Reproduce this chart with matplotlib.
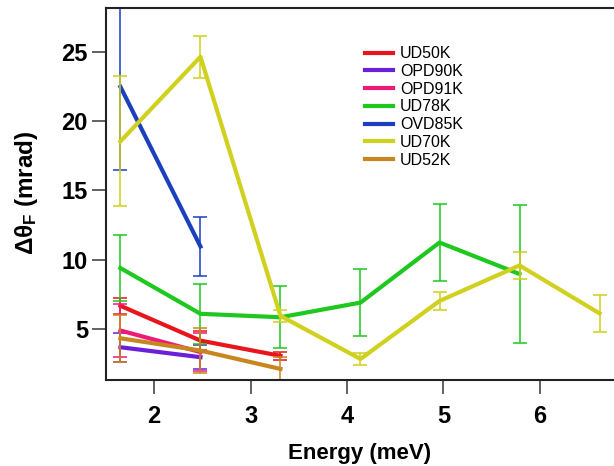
import matplotlib
matplotlib.use("Agg")
import matplotlib.pyplot as plt

plt.rcParams['font.family'] = ['Liberation Sans', 'DejaVu Sans']
plt.rcParams['mathtext.fontset'] = 'custom'
plt.rcParams['mathtext.rm'] = 'Liberation Sans:bold'
plt.rcParams['mathtext.it'] = 'Liberation Sans:bold'
plt.rcParams['mathtext.bf'] = 'Liberation Sans:bold'

# energies of the measured points (meV)
energy = [1.65, 2.48, 3.31, 4.14, 4.96, 5.79, 6.62]

labels = ['UD50K', 'OPD90K', 'OPD91K', 'UD78K', 'OVD85K', 'UD70K', 'UD52K']
colors = ['#e8161c', '#6a1fd8', '#ee1a78', '#1ec81e', '#1a3fbf', '#d0d01e', '#c8861e']

ud50_y = [6.65, 4.13, 3.03]
ud50_e = [0.6, 0.7, 0.3]
opd90_y = [3.65, 2.93]
opd90_e = [1.05, 0.87]
opd91_y = [4.86, 3.3]
opd91_e = [1.9, 1.4]
ud78_y = [9.38, 6.07, 5.82, 6.88, 11.23, 8.95]
ud78_e = [2.36, 2.15, 2.25, 2.4, 2.8, 5.0]
ovd85_y = [22.49, 10.94]
ovd85_e = [6.0, 2.17]
ud70_y = [18.55, 24.67, 5.92, 2.8, 7.0, 9.57, 6.1]
ud70_e = [4.7, 1.5, 0.42, 0.4, 0.64, 0.95, 1.36]
ud52_y = [4.30, 3.41, 2.08]
ud52_e = [1.69, 1.6, 0.85]

series = [(ud50_y, ud50_e), (opd90_y, opd90_e), (opd91_y, opd91_e), (ud78_y, ud78_e),
          (ovd85_y, ovd85_e), (ud70_y, ud70_e), (ud52_y, ud52_e)]

fig = plt.figure(figsize=(6.14, 4.66), dpi=100)
ax = fig.add_axes([106/614, 86/466, 508/614, 372/466])

for (y, e), lab, c in zip(series, labels, colors):
    x = energy[:len(y)]
    ax.errorbar(x, y, yerr=e, fmt='none', ecolor=c, elinewidth=1.3,
                capsize=5, capthick=1.3, alpha=0.85)
    ax.plot(x, y, color=c, lw=3, label=lab)

ax.set_xlim(1.5, 6.77)
ax.set_ylim(1.28, 28.2)
ax.set_xticks([2, 3, 4, 5, 6])
ax.set_yticks([5, 10, 15, 20, 25])

ax.spines['right'].set_visible(False)
for s in ['left', 'bottom', 'top']:
    ax.spines[s].set_linewidth(1.5)
    ax.spines[s].set_color('#222222')
ax.tick_params(axis='both', direction='out', length=10, width=1.3, color='#555555')
ax.tick_params(axis='x', labelsize=17, pad=8)
ax.tick_params(axis='y', labelsize=17, pad=3)
for t in ax.get_xticklabels() + ax.get_yticklabels():
    t.set_fontweight('bold')

ax.set_xlabel('Energy (meV)', fontsize=16, fontweight='bold')
ax.xaxis.set_label_coords(0.5, -0.17)
ax.set_ylabel(r'$\Delta\theta_F$ (mrad)', fontsize=17.5, fontweight='bold')
ax.yaxis.set_label_coords(-0.13, 0.503)

ax.legend(loc='upper left', bbox_to_anchor=(0.51, 0.897), frameon=False,
          fontsize=11.5, handlelength=1.75, handletextpad=0.45, labelspacing=0.17,
          borderpad=0, borderaxespad=0)

fig.savefig('out.png', dpi=100)
